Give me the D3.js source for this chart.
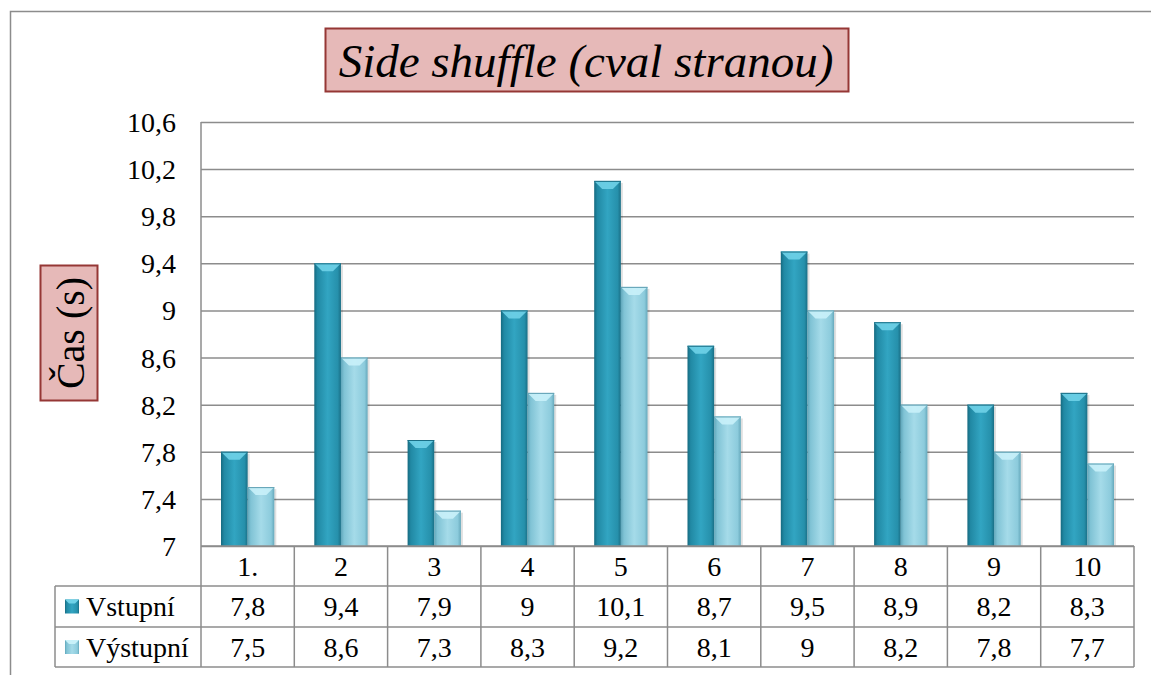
<!DOCTYPE html>
<html><head><meta charset="utf-8">
<script src="https://cdn.jsdelivr.net/npm/d3@7/dist/d3.min.js"></script>
<style>
body{margin:0;background:#fff}
#wrap{position:relative;width:1151px;height:675px}
#wrap svg{position:absolute;left:0;top:0}
</style>
</head><body>
<div id="wrap">
<svg id="c" width="1151" height="675"></svg>
<svg id="t" width="1151" height="675"></svg>
</div>
<script>
const categories = ["1.","2","3","4","5","6","7","8","9","10"];
const seriesNames = ["Vstupní","Výstupní"];
const vstupni = [7.8,9.4,7.9,9,10.1,8.7,9.5,8.9,8.2,8.3];
const vystupni = [7.5,8.6,7.3,8.3,9.2,8.1,9,8.2,7.8,7.7];
const yTicks = [7,7.4,7.8,8.2,8.6,9,9.4,9.8,10.2,10.6];
const titleText = "Side shuffle (cval stranou)";
const yTitle = "Čas (s)";

const svg = d3.select("#c");
const ts = d3.select("#t");
const FF = "Liberation Serif";
const gridC = "#8c8c8c";
const L = 201, R = 1134, T = 122, B = 546;
const rowYs = [546, 586, 627, 667];
const legendX = 55;
const fs = 28;
const fmt = v => String(v).replace(".",",");

const defs = svg.append("defs");
function grad(id, stops){
  const g = defs.append("linearGradient").attr("id", id).attr("x1","0").attr("x2","1").attr("y1","0").attr("y2","0");
  stops.forEach(s => g.append("stop").attr("offset", s[0]).attr("stop-color", s[1]));
}
grad("g0", [[0,"#166a80"],[0.12,"#2189a4"],[0.5,"#32a5c2"],[0.88,"#2690ab"],[1,"#1a6f86"]]);
grad("g1", [[0,"#5fa6ba"],[0.12,"#80c3d5"],[0.5,"#a5dbe9"],[0.88,"#8ccbdc"],[1,"#66a9bc"]]);
const topCol = ["#6fd2e8","#c9f1f9"];
const data = [vstupni, vystupni];

// outer frame
svg.append("path").attr("d","M10.5,675 L10.5,11.5 L1151,11.5").attr("fill","none").attr("stroke","#8c8c8c").attr("stroke-width",1.5);

const y = d3.scaleLinear().domain([7,10.6]).range([B,T]);
const x0 = d3.scaleBand().domain(categories).range([L,R]).padding(0);
const x1 = d3.scaleBand().domain(seriesNames).range([0,x0.bandwidth()]).paddingInner(0).paddingOuter(0.75);

// gridlines (axis in chart svg) with labels
const yAxis = d3.axisLeft(y).tickValues(yTicks).tickSize(-(R-L)).tickFormat(d => d3.format(".1~f")(d).replace(".",","));
const ga = svg.append("g").attr("transform",`translate(${L},0)`).call(yAxis);
ga.select(".domain").remove();
ga.attr("font-family",FF).attr("font-size",fs);
ga.selectAll(".tick line").attr("stroke",gridC).attr("stroke-width",1.5);
ga.selectAll(".tick text").attr("x",-25).attr("dy",null).attr("dominant-baseline","central")
  .attr("font-family",FF).attr("font-size",fs).attr("fill","#000");

svg.append("line").attr("x1",L).attr("x2",L).attr("y1",T).attr("y2",rowYs[3]).attr("stroke",gridC).attr("stroke-width",1.5);

// bars
seriesNames.forEach((s, si) => {
  const g = svg.append("g");
  const bw = x1.bandwidth();
  categories.forEach((c, i) => {
    const v = data[si][i];
    const bx = x0(c) + x1(s);
    const by = y(v);
    const bh = y(7) - by;
    g.append("rect").attr("x",bx+2).attr("y",by+2).attr("width",bw).attr("height",bh-2).attr("fill","#000").attr("fill-opacity",0.12);
    g.append("rect").attr("x",bx).attr("y",by).attr("width",bw).attr("height",bh).attr("fill",`url(#g${si})`);
    const d = Math.min(8, bh/2);
    g.append("path").attr("d",`M${bx},${by} L${bx+bw},${by} L${bx+bw-d},${by+d} L${bx+d},${by+d} Z`).attr("fill",topCol[si]).attr("fill-opacity",0.9);
    g.append("line").attr("x1",bx).attr("x2",bx+bw).attr("y1",by+0.5).attr("y2",by+0.5).attr("stroke",si?"#5e9fb2":"#1a6f86").attr("stroke-width",1);
  });
});

// table lines
const tg = svg.append("g");
const ln = (a,b,c,d) => tg.append("line").attr("x1",a).attr("y1",b).attr("x2",c).attr("y2",d).attr("stroke",gridC).attr("stroke-width",1.5);
ln(L, rowYs[0], R, rowYs[0]);
ln(legendX, rowYs[1], R, rowYs[1]);
ln(legendX, rowYs[2], R, rowYs[2]);
ln(legendX, rowYs[3], R, rowYs[3]);
ln(legendX, rowYs[1], legendX, rowYs[3]);
categories.forEach(c => ln(x0(c)+x0.bandwidth(), rowYs[0], x0(c)+x0.bandwidth(), rowYs[3]));

// legend keys
seriesNames.forEach((s, si) => {
  const cy = (rowYs[1+si]+rowYs[2+si])/2;
  tg.append("rect").attr("x",65).attr("y",cy-7).attr("width",14).attr("height",14).attr("fill",`url(#g${si})`);
  tg.append("path").attr("d",`M65,${cy-7} L79,${cy-7} L75,${cy-3} L69,${cy-3} Z`).attr("fill",topCol[si]);
});

// title & y-title boxes
svg.append("rect").attr("x",325.5).attr("y",28.5).attr("width",523).attr("height",63).attr("fill","#e6b9b8").attr("stroke","#953735").attr("stroke-width",2);
svg.append("rect").attr("x",40.5).attr("y",265.5).attr("width",57).attr("height",135).attr("fill","#e6b9b8").attr("stroke","#953735").attr("stroke-width",2);

// texts in overlay svg
const txt = (x, yy, t, anchor, size) => ts.append("text").attr("x",x).attr("y",yy).attr("text-anchor",anchor||"middle")
  .attr("dominant-baseline","central").attr("font-family",FF).attr("font-size",size||fs).attr("fill","#000").text(t);
categories.forEach((c,i) => {
  const cx = x0(c) + x0.bandwidth()/2;
  txt(cx, (rowYs[0]+rowYs[1])/2, c);
  txt(cx, (rowYs[1]+rowYs[2])/2, fmt(vstupni[i]));
  txt(cx, (rowYs[2]+rowYs[3])/2, fmt(vystupni[i]));
});
seriesNames.forEach((s, si) => txt(86, (rowYs[1+si]+rowYs[2+si])/2, s, "start"));
txt(586, 61, titleText, "middle", 47).attr("font-style","italic");
txt(0, 0, yTitle, "middle", 40).attr("transform","translate(70,333) rotate(-90)");
</script>
</body></html>
